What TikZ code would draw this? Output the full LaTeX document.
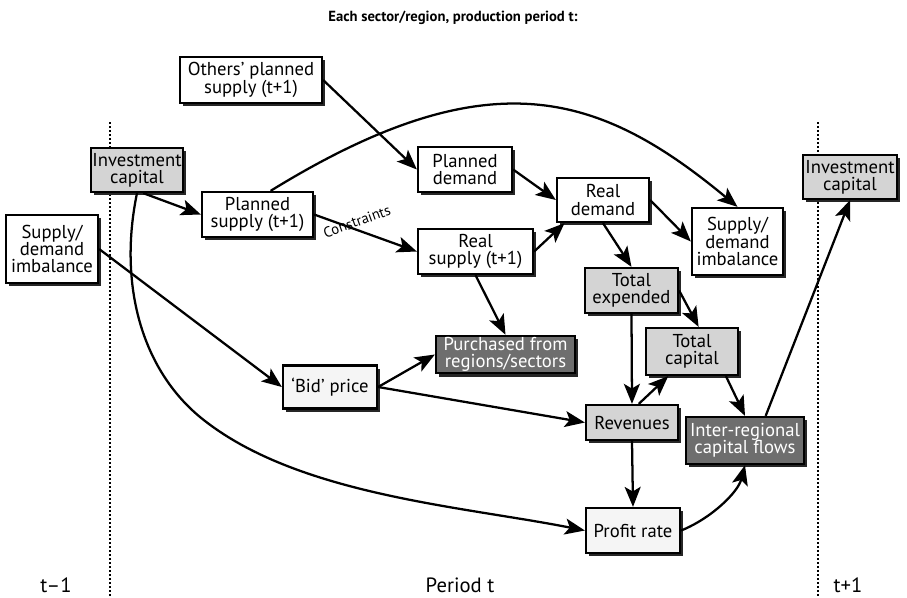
\documentclass[tikz,border=0pt]{standalone}
\usepackage{fontspec}
\setmainfont{PT Sans}
\usetikzlibrary{arrows.meta,shadows}

\tikzset{
  sz/.style 2 args={minimum width=#1*0.75pt, minimum height=#2*0.75pt},
  box/.style={draw=black, line width=1.7pt, fill=white, align=center, inner sep=1pt,
    font=\fontsize{14}{13}\selectfont,
    drop shadow={shadow xshift=2.6pt, shadow yshift=-2.6pt, fill=black!85, opacity=1}},
  greybox/.style={box, fill=black!17},
  darkbox/.style={box, fill=black!57, text=white},
  palebox/.style={box, fill=black!4},
  arr/.style={line width=1.7pt, -{Stealth[length=15pt,width=12pt,inset=3.5pt]}},
  period/.style={dash pattern=on 1.5pt off 1.5pt, line width=1.5pt},
}

\begin{document}
\begin{tikzpicture}[x=0.75pt,y=0.75pt,yscale=-1,xscale=1]
\useasboundingbox (0,0) rectangle (907,597);

%Period borders
\draw[period] (110,122) -- (110,597);
\draw[period] (818,122) -- (818,597);

% Text Node
\node[font=\bfseries\fontsize{11}{12}\selectfont] (title) at (453,18) {Each sector/region, production period t:};
\node[font=\fontsize{15.5}{16}\selectfont] (tprev) at (56,585) {t–1};
\node[font=\fontsize{15.5}{16}\selectfont] (tcur) at (460,585) {Period t};
\node[font=\fontsize{15.5}{16}\selectfont] (tnext) at (848,585) {t+1};

%Shape: boxes
\node[greybox, sz={92}{44}] (invL) at (137,170) {Investment\\capital};
\node[box, sz={92}{68}] (sdiL) at (52,249) {Supply/\\demand\\imbalance};
\node[box, sz={111}{45}] (plansup) at (257.5,214.5) {Planned\\supply (t+1)};
\node[box, sz={142}{46}] (others) at (251,80) {Others’ planned\\supply (t+1)};
\node[box, sz={94}{45}] (plandem) at (465,169.5) {Planned\\demand};
\node[box, sz={92}{44}] (realdem) at (603,200) {Real\\demand};
\node[box, sz={115}{45}] (realsup) at (475.5,251.5) {Real\\supply (t+1)};
\node[box, sz={91}{67}] (sdiR) at (737.5,241.5) {Supply/\\demand\\imbalance};
\node[greybox, sz={93}{45}] (totexp) at (631.5,290.5) {Total\\expended};
\node[greybox, sz={92}{47}] (totcap) at (692,351.5) {Total\\capital};
\node[greybox, sz={92}{35}] (rev) at (632,422.5) {Revenues};
\node[darkbox, sz={118}{47}] (irflow) at (745,440.5) {Inter-regional\\capital flows};
\node[palebox, sz={94}{45}] (profit) at (633,530.5) {Profit rate};
\node[greybox, sz={94}{44}] (invR) at (850,177) {Investment\\capital};
\node[palebox, sz={94}{43}] (bid) at (330,387) {‘Bid’ price};
\node[darkbox, sz={139}{37}] (purch) at (505.5,354.5) {Purchased from\\regions/sectors};

%Straight Lines
\draw[arr] (invL.-75) -- (plansup.west);
\draw[arr] (others.east) -- (plandem.west);
\draw[arr] (plansup.east) -- node[pos=0.45, above, sloped, inner sep=3pt, font=\fontsize{11}{11}\selectfont] {Constraints} (realsup.west);
\draw[arr] (plandem.east) -- (realdem.west);
\draw[arr] (realsup.east) -- (realdem.-149);
\draw[arr] (realdem.east) -- (sdiR.west);
\draw[arr] (realdem.south) -- (totexp.north);
\draw[arr] (realsup.south) -- (purch.north);
\draw[arr] (sdiL.east) -- (bid.west);
\draw[arr] (bid.east) -- (purch.west);
\draw[arr] (bid.east) -- (rev.west);
\draw[arr] (totexp.east) -- (totcap.75);
\draw[arr] (totexp.south) -- (rev.north);
\draw[arr] (rev.70) -- (totcap.-134);
\draw[arr] (totcap.-36) -- (irflow.north);
\draw[arr] (rev.south) -- (profit.north);
\draw[arr] (irflow.50) -- (invR.south);

%Curves
\draw[arr] (plansup.61) .. controls (490,55.6) and (600,93) .. (sdiR.north);
\draw[arr] (invL.south) .. controls (118,285) and (142,369) .. (200,417) .. controls (295,495) and (461,506) .. (profit.west);
\draw[arr] (profit.east) .. controls (712,518) and (738,492) .. (irflow.south);

\end{tikzpicture}
\end{document}
